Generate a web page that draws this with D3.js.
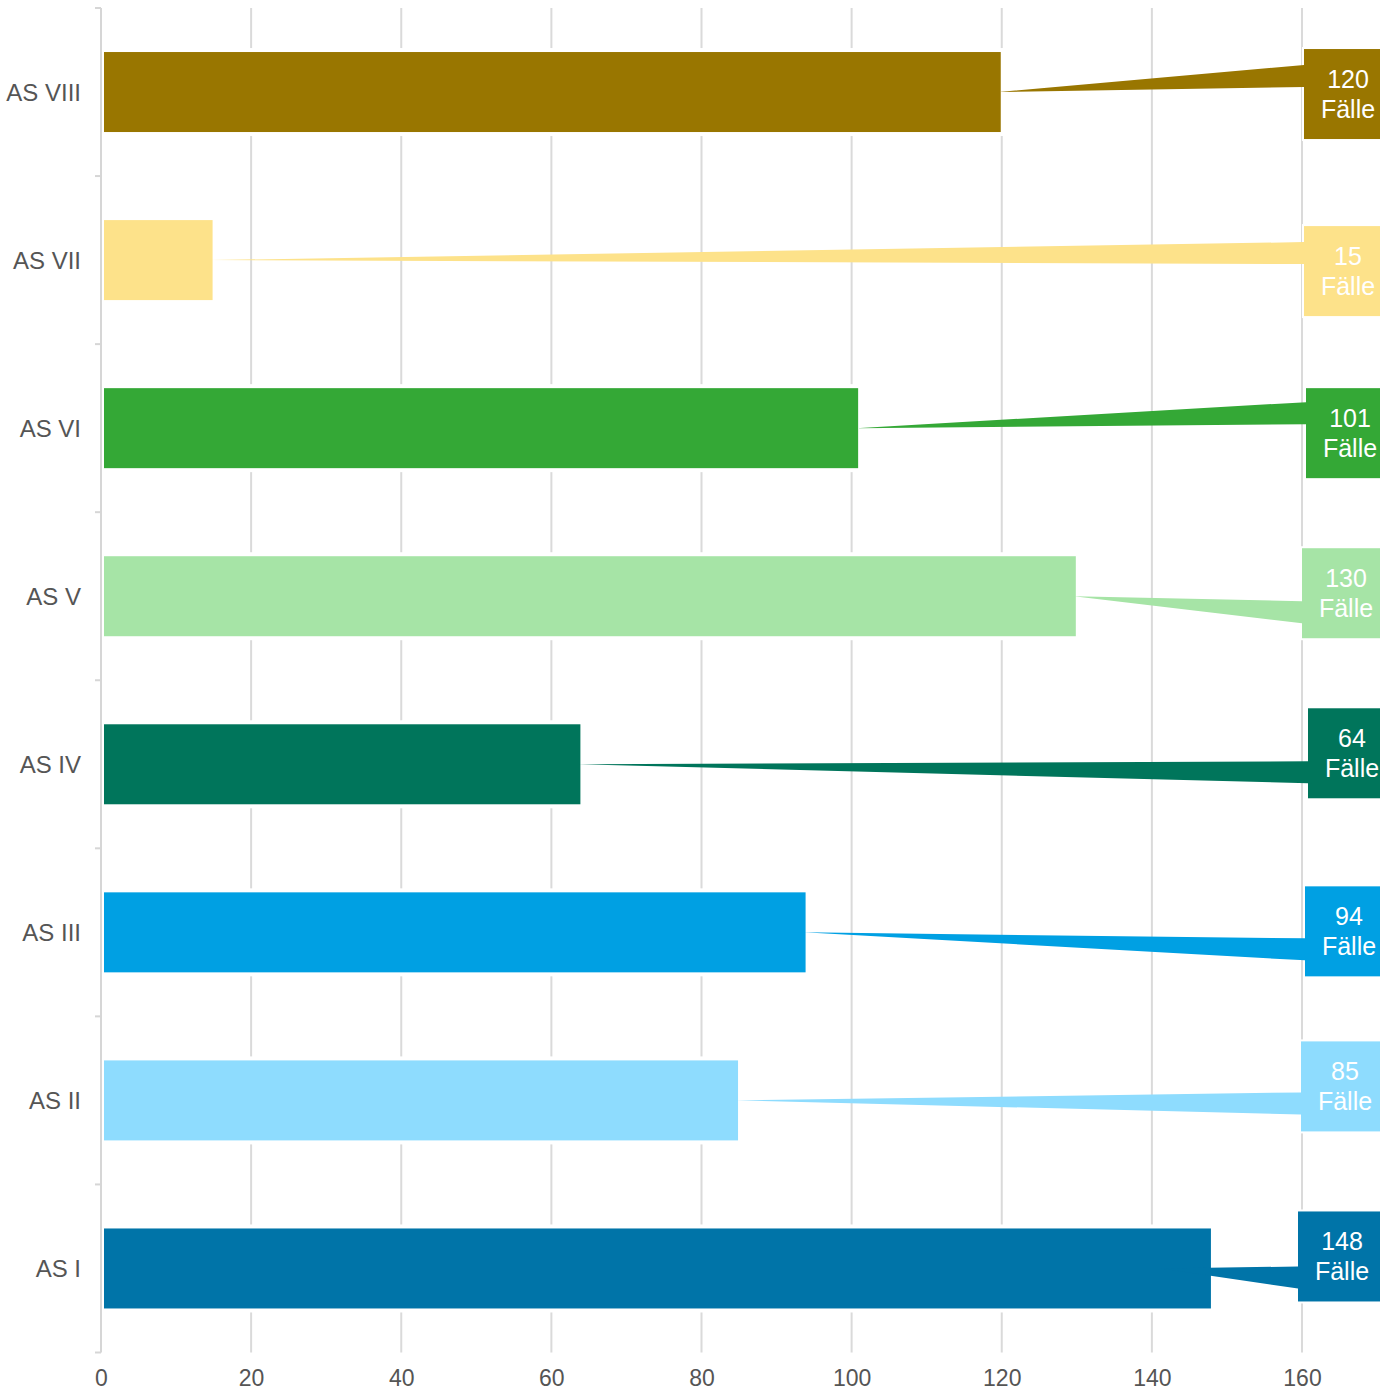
<!DOCTYPE html>
<html>
<head>
    <meta charset="utf-8">
    <script src="https://d3js.org/d3.v7.min.js"></script>
    <style>
        body { margin: 0; background: #fff; }
        svg { display: block; font-family: "Liberation Sans", Arial, sans-serif; }
        .axis text { font-size: 23px; fill: #555; }
        .axis.cats text { font-size: 24px; }
        .axis .domain { display: none; }
        .callout text { font-size: 25px; fill: #fff; }
    </style>
</head>
<body>
    <svg width="1380" height="1393"></svg>

    <script>
        const width = 1380, height = 1393;
        const margin = { top: 8, right: 78, bottom: 40, left: 101 };
        const svg = d3.select("svg");

        // data
        const categories = ["AS VIII", "AS VII", "AS VI", "AS V", "AS IV", "AS III", "AS II", "AS I"];
        const values = [120, 15, 101, 130, 64, 94, 85, 148];
        const colors = ["#997600", "#fde28a", "#34a836", "#a6e4a6", "#00755b", "#00a0e3", "#8edcfe", "#0074a8"];
        const xTicks = [0, 20, 40, 60, 80, 100, 120, 140, 160];
        const unitLabel = "Fälle";

        // callout layout nudges (px), the boxes are not all aligned
        const boxDy = [2, 11, 5, -3, -11, -1, -14, -12];
        const boxDx = [0, 0, 2, -2, 4, 1, -3, -6];
        const tailDy = [-16, -7, -15, 16, 8, 17, 3, 9];

        const rows = categories.map((c, i) => ({ cat: c, value: values[i], color: colors[i], i: i }));

        // scales
        const x = d3.scaleLinear().domain([0, 160]).range([margin.left, width - margin.right]);
        const y = d3.scaleBand().domain(categories)
            .range([margin.top, height - margin.bottom - 0.5])
            .paddingInner(0.524).paddingOuter(0.262);

        const plotTop = y.range()[0], plotBottom = y.range()[1];

        // grid lines
        svg.append("g")
            .selectAll("line")
            .data(xTicks.filter(d => d > 0))
            .enter().append("line")
            .attr("x1", d => x(d)).attr("x2", d => x(d))
            .attr("y1", plotTop).attr("y2", plotBottom)
            .attr("stroke", "#dadada").attr("stroke-width", 2);

        // bars
        svg.append("g")
            .selectAll("rect")
            .data(rows)
            .enter().append("rect")
            .attr("x", x(0) + 3)
            .attr("y", d => y(d.cat))
            .attr("width", d => x(d.value) - x(0) - 4)
            .attr("height", y.bandwidth())
            .attr("fill", d => d.color)
            .attr("stroke", "#fff").attr("stroke-width", 8)
            .attr("paint-order", "stroke");

        // callouts
        const boxW = 88, boxH = 90, tailW = 22;
        const textCx = d => x(160) + 46 + boxDx[d.i];
        const boxCy = d => y(d.cat) + y.bandwidth() / 2 + boxDy[d.i];
        const boxLeft = d => textCx(d) - boxW / 2;

        const callout = svg.append("g").attr("class", "callout")
            .selectAll("g")
            .data(rows)
            .enter().append("g");

        callout.append("rect")
            .attr("x", d => boxLeft(d))
            .attr("y", d => boxCy(d) - boxH / 2)
            .attr("width", boxW)
            .attr("height", boxH)
            .attr("fill", d => d.color)
            .attr("stroke", "#fff").attr("stroke-width", 4)
            .attr("paint-order", "stroke");

        callout.append("path")
            .attr("d", d => {
                const cy = y(d.cat) + y.bandwidth() / 2;
                const bx = boxLeft(d);
                const ax = Math.min(x(d.value) - 3, bx - 137);
                const ty = cy + tailDy[d.i];
                return `M${ax},${cy}L${bx},${ty - tailW / 2}L${bx + 4},${ty - tailW / 2}L${bx + 4},${ty + tailW / 2}L${bx},${ty + tailW / 2}Z`;
            })
            .attr("fill", d => d.color);

        callout.append("text")
            .attr("x", d => textCx(d))
            .attr("y", d => boxCy(d) - 6)
            .attr("text-anchor", "middle")
            .text(d => d.value);

        callout.append("text")
            .attr("x", d => textCx(d))
            .attr("y", d => boxCy(d) + 24)
            .attr("text-anchor", "middle")
            .text(unitLabel);

        // y axis line and boundary ticks
        const yAxisG = svg.append("g");
        yAxisG.append("line")
            .attr("x1", x(0)).attr("x2", x(0))
            .attr("y1", plotTop).attr("y2", plotBottom)
            .attr("stroke", "#d6d6d6").attr("stroke-width", 2);
        yAxisG.selectAll("line.tick")
            .data(d3.range(categories.length + 1))
            .enter().append("line")
            .attr("class", "tick")
            .attr("x1", x(0) - 6).attr("x2", x(0))
            .attr("y1", i => plotTop + i * y.step())
            .attr("y2", i => plotTop + i * y.step())
            .attr("stroke", "#d6d6d6").attr("stroke-width", 2);

        // category labels
        svg.append("g")
            .attr("class", "axis cats")
            .attr("transform", `translate(${x(0) - 2}, 0)`)
            .call(d3.axisLeft(y).tickSize(0).tickPadding(18))
            .selectAll(".tick text").attr("dy", "0.36em");

        // x axis labels
        svg.append("g")
            .attr("class", "axis")
            .attr("transform", `translate(0, ${plotBottom})`)
            .call(d3.axisBottom(x).tickValues(xTicks).tickSize(0).tickPadding(28))
            .selectAll(".tick text").attr("dy", "0.25em");
    </script>
</body>
</html>
